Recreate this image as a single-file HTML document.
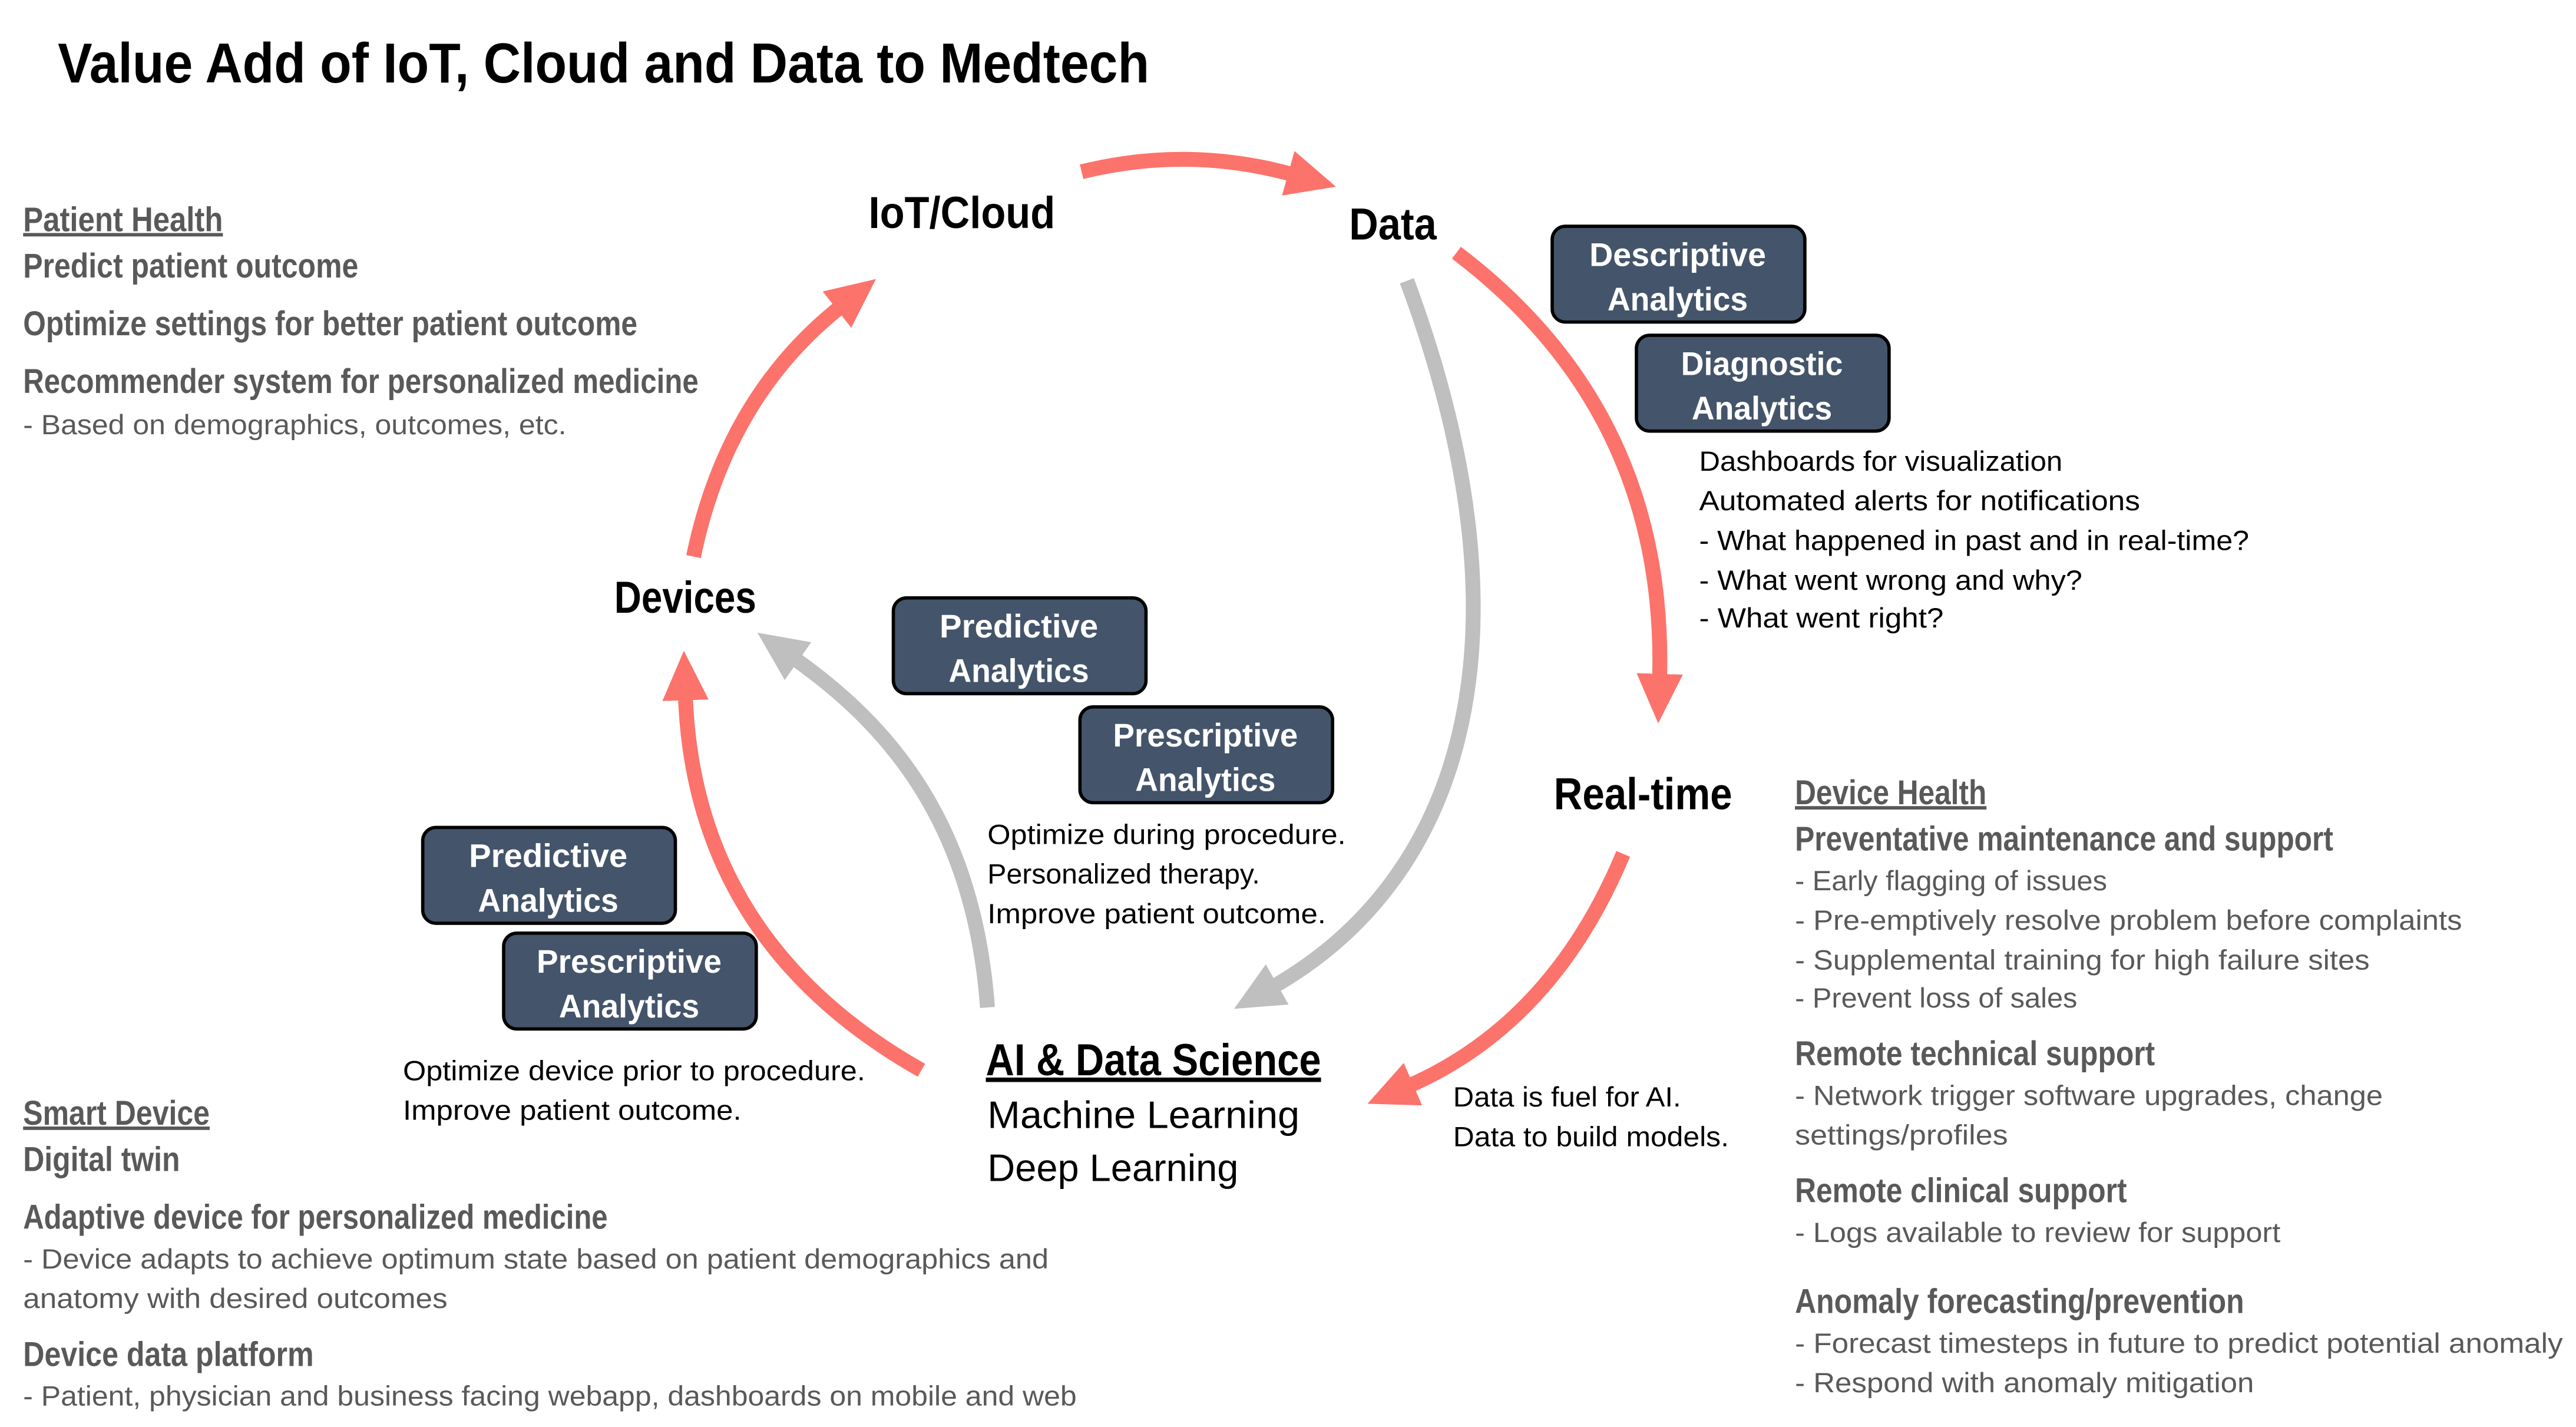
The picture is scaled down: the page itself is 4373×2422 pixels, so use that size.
<!DOCTYPE html>
<html><head><meta charset="utf-8"><style>
html,body{margin:0;padding:0;background:#fff;}
svg{display:block;}
.h{font-family:"Liberation Sans Narrow","Liberation Sans",sans-serif;font-weight:bold;}
.b{font-family:"Liberation Sans",sans-serif;}
.g{fill:#595959;}
.bx{fill:#44546A;stroke:#000;stroke-width:2;}
.bt{fill:#fff;font-size:20px;text-anchor:middle;}
.red{fill:none;stroke:#FC736B;stroke-width:9;}
.gr{fill:none;stroke:#BFBFBF;stroke-width:9;}
</style></head><body>
<svg width="4373" height="2422" viewBox="0 0 1560 864" preserveAspectRatio="none" xmlns="http://www.w3.org/2000/svg">
<defs>
<marker id="mr" markerUnits="userSpaceOnUse" markerWidth="34" markerHeight="34" refX="4" refY="14" orient="auto"><path d="M0,0 L30,14 L0,28 z" fill="#FC736B"/></marker>
<marker id="mg" markerUnits="userSpaceOnUse" markerWidth="34" markerHeight="34" refX="4" refY="14" orient="auto"><path d="M0,0 L30,14 L0,28 z" fill="#BFBFBF"/></marker>
</defs>
<text x="35" y="50" class="h" font-size="34" textLength="661" lengthAdjust="spacingAndGlyphs">Value Add of IoT, Cloud and Data to Medtech</text>

<path class="red" d="M655,104 Q720,88 784,106" marker-end="url(#mr)"/>
<path class="red" d="M882,153 Q1010,250 1005,412" marker-end="url(#mr)"/>
<path class="red" d="M983,517 Q940,620 852,658" marker-end="url(#mr)"/>
<path class="red" d="M558,648 Q420,570 415,420" marker-end="url(#mr)"/>
<path class="red" d="M420,337 Q440,240 510,185" marker-end="url(#mr)"/>
<path class="gr" d="M852,170 C930,380 890,530 770,598" marker-end="url(#mg)"/>
<path class="gr" d="M598,610 C590,500 540,440 480,398" marker-end="url(#mg)"/>

<g class="h" font-size="27">
<text x="526" y="138" textLength="113" lengthAdjust="spacingAndGlyphs">IoT/Cloud</text>
<text x="817" y="145" textLength="53" lengthAdjust="spacingAndGlyphs">Data</text>
<text x="372" y="371" textLength="86" lengthAdjust="spacingAndGlyphs">Devices</text>
<text x="941" y="490" textLength="108" lengthAdjust="spacingAndGlyphs">Real-time</text>
<text x="597" y="651" textLength="203" lengthAdjust="spacingAndGlyphs" text-decoration="underline">AI &amp; Data Science</text>
</g>
<text x="598" y="683" class="b" font-size="23" textLength="189" lengthAdjust="spacingAndGlyphs">Machine Learning</text>
<text x="598" y="715" class="b" font-size="23" textLength="152" lengthAdjust="spacingAndGlyphs">Deep Learning</text>

<g class="h">
<rect class="bx" x="940" y="137" width="153" height="58" rx="8"/>
<text class="bt" x="1016" y="161" textLength="107" lengthAdjust="spacingAndGlyphs">Descriptive</text><text class="bt" x="1016" y="188" textLength="85" lengthAdjust="spacingAndGlyphs">Analytics</text>
<rect class="bx" x="991" y="203" width="153" height="58" rx="8"/>
<text class="bt" x="1067" y="227" textLength="98" lengthAdjust="spacingAndGlyphs">Diagnostic</text><text class="bt" x="1067" y="254" textLength="85" lengthAdjust="spacingAndGlyphs">Analytics</text>
<rect class="bx" x="541" y="362" width="153" height="58" rx="8"/>
<text class="bt" x="617" y="386" textLength="96" lengthAdjust="spacingAndGlyphs">Predictive</text><text class="bt" x="617" y="413" textLength="85" lengthAdjust="spacingAndGlyphs">Analytics</text>
<rect class="bx" x="654" y="428" width="153" height="58" rx="8"/>
<text class="bt" x="730" y="452" textLength="112" lengthAdjust="spacingAndGlyphs">Prescriptive</text><text class="bt" x="730" y="479" textLength="85" lengthAdjust="spacingAndGlyphs">Analytics</text>
<rect class="bx" x="256" y="501" width="153" height="58" rx="8"/>
<text class="bt" x="332" y="525" textLength="96" lengthAdjust="spacingAndGlyphs">Predictive</text><text class="bt" x="332" y="552" textLength="85" lengthAdjust="spacingAndGlyphs">Analytics</text>
<rect class="bx" x="305" y="565" width="153" height="58" rx="8"/>
<text class="bt" x="381" y="589" textLength="112" lengthAdjust="spacingAndGlyphs">Prescriptive</text><text class="bt" x="381" y="616" textLength="85" lengthAdjust="spacingAndGlyphs">Analytics</text>
</g>

<g class="b" font-size="17">
<text x="1029" y="285" textLength="220" lengthAdjust="spacingAndGlyphs">Dashboards for visualization</text>
<text x="1029" y="309" textLength="267" lengthAdjust="spacingAndGlyphs">Automated alerts for notifications</text>
<text x="1029" y="333" textLength="333" lengthAdjust="spacingAndGlyphs">- What happened in past and in real-time?</text>
<text x="1029" y="357" textLength="232" lengthAdjust="spacingAndGlyphs">- What went wrong and why?</text>
<text x="1029" y="380" textLength="148" lengthAdjust="spacingAndGlyphs">- What went right?</text>
<text x="598" y="511" textLength="217" lengthAdjust="spacingAndGlyphs">Optimize during procedure.</text>
<text x="598" y="535" textLength="165" lengthAdjust="spacingAndGlyphs">Personalized therapy.</text>
<text x="598" y="559" textLength="205" lengthAdjust="spacingAndGlyphs">Improve patient outcome.</text>
<text x="244" y="654" textLength="280" lengthAdjust="spacingAndGlyphs">Optimize device prior to procedure.</text>
<text x="244" y="678" textLength="205" lengthAdjust="spacingAndGlyphs">Improve patient outcome.</text>
<text x="880" y="670" textLength="138" lengthAdjust="spacingAndGlyphs">Data is fuel for AI.</text>
<text x="880" y="694" textLength="167" lengthAdjust="spacingAndGlyphs">Data to build models.</text>
</g>

<g class="h g" font-size="21">
<text x="14" y="140" textLength="121" lengthAdjust="spacingAndGlyphs" text-decoration="underline">Patient Health</text>
<text x="14" y="168" textLength="203" lengthAdjust="spacingAndGlyphs">Predict patient outcome</text>
<text x="14" y="203" textLength="372" lengthAdjust="spacingAndGlyphs">Optimize settings for better patient outcome</text>
<text x="14" y="238" textLength="409" lengthAdjust="spacingAndGlyphs">Recommender system for personalized medicine</text>
<text x="14" y="681" textLength="113" lengthAdjust="spacingAndGlyphs" text-decoration="underline">Smart Device</text>
<text x="14" y="709" textLength="95" lengthAdjust="spacingAndGlyphs">Digital twin</text>
<text x="14" y="744" textLength="354" lengthAdjust="spacingAndGlyphs">Adaptive device for personalized medicine</text>
<text x="14" y="827" textLength="176" lengthAdjust="spacingAndGlyphs">Device data platform</text>
<text x="1087" y="487" textLength="116" lengthAdjust="spacingAndGlyphs" text-decoration="underline">Device Health</text>
<text x="1087" y="515" textLength="326" lengthAdjust="spacingAndGlyphs">Preventative maintenance and support</text>
<text x="1087" y="645" textLength="218" lengthAdjust="spacingAndGlyphs">Remote technical support</text>
<text x="1087" y="728" textLength="201" lengthAdjust="spacingAndGlyphs">Remote clinical support</text>
<text x="1087" y="795" textLength="272" lengthAdjust="spacingAndGlyphs">Anomaly forecasting/prevention</text>
</g>
<g class="b g" font-size="17">
<text x="14" y="263" textLength="329" lengthAdjust="spacingAndGlyphs">- Based on demographics, outcomes, etc.</text>
<text x="14" y="768" textLength="621" lengthAdjust="spacingAndGlyphs">- Device adapts to achieve optimum state based on patient demographics and</text>
<text x="14" y="792" textLength="257" lengthAdjust="spacingAndGlyphs">anatomy with desired outcomes</text>
<text x="14" y="851" textLength="638" lengthAdjust="spacingAndGlyphs">- Patient, physician and business facing webapp, dashboards on mobile and web</text>
<text x="1087" y="539" textLength="189" lengthAdjust="spacingAndGlyphs">- Early flagging of issues</text>
<text x="1087" y="563" textLength="404" lengthAdjust="spacingAndGlyphs">- Pre-emptively resolve problem before complaints</text>
<text x="1087" y="587" textLength="348" lengthAdjust="spacingAndGlyphs">- Supplemental training for high failure sites</text>
<text x="1087" y="610" textLength="171" lengthAdjust="spacingAndGlyphs">- Prevent loss of sales</text>
<text x="1087" y="669" textLength="356" lengthAdjust="spacingAndGlyphs">- Network trigger software upgrades, change</text>
<text x="1087" y="693" textLength="129" lengthAdjust="spacingAndGlyphs">settings/profiles</text>
<text x="1087" y="752" textLength="294" lengthAdjust="spacingAndGlyphs">- Logs available to review for support</text>
<text x="1087" y="819" textLength="465" lengthAdjust="spacingAndGlyphs">- Forecast timesteps in future to predict potential anomaly</text>
<text x="1087" y="843" textLength="278" lengthAdjust="spacingAndGlyphs">- Respond with anomaly mitigation</text>
</g>
</svg>
</body></html>
